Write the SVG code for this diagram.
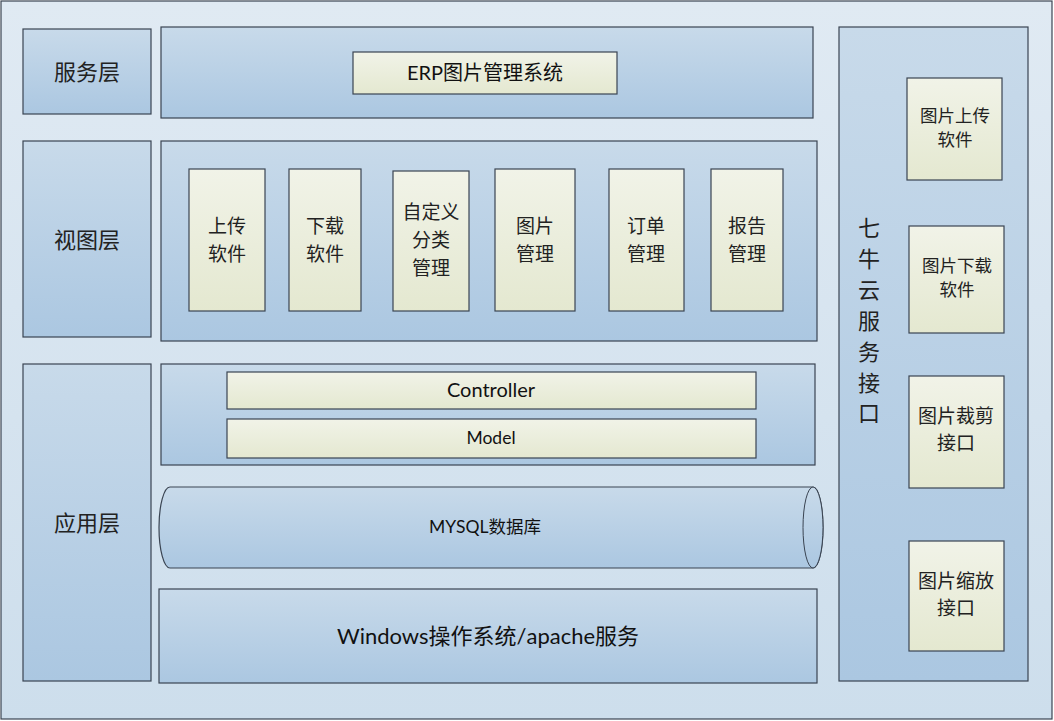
<svg xmlns="http://www.w3.org/2000/svg" width="1054" height="721" viewBox="0 0 1054 721">
<defs>
<linearGradient id="bgG" x1="0" y1="0" x2="0" y2="1"><stop offset="0" stop-color="#e0eaf3"/><stop offset="1" stop-color="#cddeec"/></linearGradient>
<linearGradient id="panelG" x1="0" y1="0" x2="0" y2="1"><stop offset="0" stop-color="#c8daea"/><stop offset="1" stop-color="#abc7e1"/></linearGradient>
<linearGradient id="boxG" x1="0" y1="0" x2="0" y2="1"><stop offset="0" stop-color="#f1f3e8"/><stop offset="1" stop-color="#e4e8d0"/></linearGradient>
</defs>
<style>
.frame{fill:url(#bgG);stroke:#3a4452;stroke-width:1.2}
.panel{fill:url(#panelG);stroke:#3a4452;stroke-width:1.2}
.box{fill:url(#boxG);stroke:#3a4452;stroke-width:1.2}
.cn{font-family:"Noto Sans CJK SC","Noto Sans",sans-serif;fill:#222;text-anchor:middle;dominant-baseline:central}
.lt{font-family:Lato,"Noto Sans CJK SC",sans-serif;fill:#111;text-anchor:middle;dominant-baseline:central}
.l{font-size:22px}
.m{font-size:19px}
.s{font-size:17.5px}
</style>
<rect class="frame" x="1" y="1" width="1051" height="718"/>

<g id="label-service"><rect class="panel" x="23" y="29" width="128" height="85"/><text class="cn l" x="87" y="70">服务层</text></g>
<g id="label-view"><rect class="panel" x="23" y="141" width="128" height="196"/><text class="cn l" x="87" y="238">视图层</text></g>
<g id="label-app"><rect class="panel" x="23" y="364" width="128" height="317"/><text class="cn l" x="87" y="521">应用层</text></g>

<g id="service-panel"><rect class="panel" x="161" y="27" width="652" height="91"/></g>
<g id="erp"><rect class="box" x="353" y="52" width="264" height="42"/><text class="lt" font-size="20" x="485" y="72">ERP图片管理系统</text></g>

<g id="view-panel"><rect class="panel" x="161" y="141" width="656" height="200"/></g>
<g id="v-upload"><rect class="box" x="189" y="169" width="76" height="142"/><text class="cn m" x="227" y="224">上传</text><text class="cn m" x="227" y="252">软件</text></g>
<g id="v-download"><rect class="box" x="289" y="169" width="72" height="142"/><text class="cn m" x="325" y="224">下载</text><text class="cn m" x="325" y="252">软件</text></g>
<g id="v-custom"><rect class="box" x="393" y="171" width="76" height="140"/><text class="cn m" x="431" y="210">自定义</text><text class="cn m" x="431" y="238">分类</text><text class="cn m" x="431" y="266">管理</text></g>
<g id="v-image"><rect class="box" x="495" y="169" width="80" height="142"/><text class="cn m" x="535" y="224">图片</text><text class="cn m" x="535" y="252">管理</text></g>
<g id="v-order"><rect class="box" x="609" y="169" width="75" height="142"/><text class="cn m" x="646" y="224">订单</text><text class="cn m" x="646" y="252">管理</text></g>
<g id="v-report"><rect class="box" x="711" y="169" width="72" height="142"/><text class="cn m" x="747" y="224">报告</text><text class="cn m" x="747" y="252">管理</text></g>

<g id="app-panel"><rect class="panel" x="161" y="364" width="654" height="101"/></g>
<g id="controller"><rect class="box" x="227" y="372" width="529" height="37"/><text class="lt" font-size="20" x="491" y="389">Controller</text></g>
<g id="model"><rect class="box" x="227" y="419" width="529" height="39"/><text class="lt" font-size="17.5" x="491" y="437">Model</text></g>

<g id="mysql">
<path class="panel" d="M170,487 L813,487 A10,40.5 0 0 1 813,568 L170,568 A11,40.5 0 0 1 170,487 Z"/>
<ellipse class="panel" cx="813" cy="527.5" rx="10" ry="40.5" style="stroke-width:1"/>
<text class="lt" font-size="17.5" x="485" y="526">MYSQL数据库</text>
</g>

<g id="windows"><rect class="panel" x="159" y="589" width="658" height="94"/><text class="lt" font-size="22" x="488" y="635">Windows操作系统/apache服务</text></g>

<g id="qiniu-panel"><rect class="panel" x="839" y="27" width="189" height="654"/>
<text class="cn l" x="869" y="226">七</text><text class="cn l" x="869" y="257">牛</text><text class="cn l" x="869" y="288">云</text><text class="cn l" x="869" y="319">服</text><text class="cn l" x="869" y="350">务</text><text class="cn l" x="869" y="381">接</text><text class="cn l" x="869" y="411">口</text>
</g>
<g id="q-upload"><rect class="box" x="907" y="78" width="95" height="102"/><text class="cn s" x="955" y="114">图片上传</text><text class="cn s" x="955" y="138">软件</text></g>
<g id="q-download"><rect class="box" x="909" y="226" width="95" height="107"/><text class="cn s" x="957" y="264">图片下载</text><text class="cn s" x="957" y="288">软件</text></g>
<g id="q-crop"><rect class="box" x="909" y="376" width="95" height="112"/><text class="cn m" x="956" y="414">图片裁剪</text><text class="cn m" x="956" y="441">接口</text></g>
<g id="q-scale"><rect class="box" x="909" y="541" width="95" height="110"/><text class="cn m" x="956" y="579">图片缩放</text><text class="cn m" x="956" y="606">接口</text></g>
<g id="connectors"/>
</svg>
